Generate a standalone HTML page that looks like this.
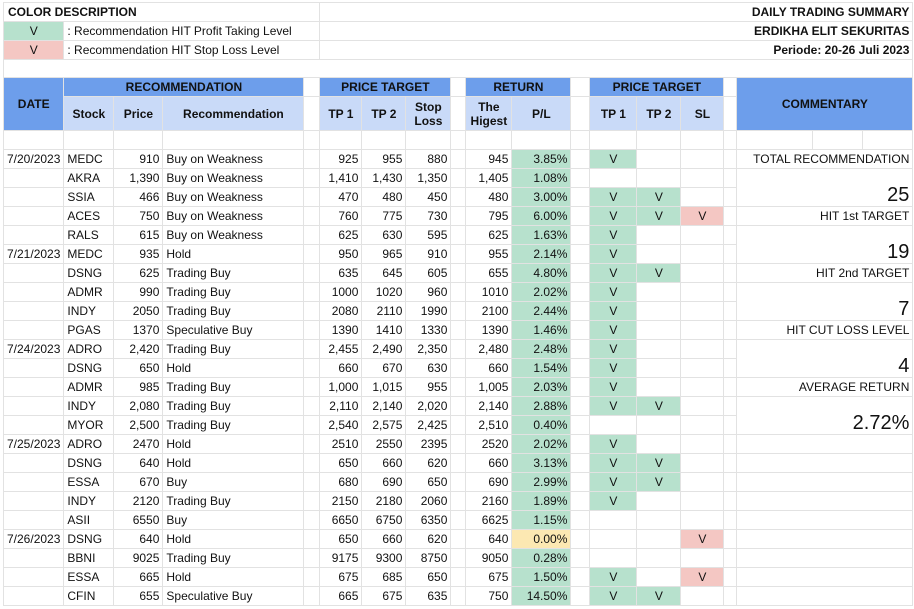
<!DOCTYPE html>
<html><head><meta charset="utf-8"><style>
body{margin:0;background:#fff;width:914px;height:609px;overflow:hidden;font-family:"Liberation Sans",Arial,sans-serif;font-size:12px;color:#111}
table{position:absolute;left:3px;top:2px;border-collapse:collapse;table-layout:fixed}
td{border:1px solid #e2e2e2;height:18px;padding:0 3px;white-space:nowrap;overflow:hidden;line-height:16px}
.r{text-align:right}.c{text-align:center}
.g{background:#b7e1cd}.rd{background:#f4c7c3}.y{background:#fce8b2}
.d{background:#6d9eeb;font-weight:bold;text-align:center;color:#111}
.l{background:#c9daf8;font-weight:bold;text-align:center}
.b{font-weight:bold}
.big{font-size:20px;text-align:right;vertical-align:bottom;line-height:22px}
</style></head><body>
<table>
<colgroup><col style="width:60px"><col style="width:50px"><col style="width:49px"><col style="width:141px"><col style="width:16px"><col style="width:42px"><col style="width:44px"><col style="width:45px"><col style="width:15px"><col style="width:46px"><col style="width:59px"><col style="width:19px"><col style="width:47px"><col style="width:44px"><col style="width:43px"><col style="width:13px"><col style="width:76px"><col style="width:50px"><col style="width:50px"></colgroup>
<tr><td colspan="5" class="b" style="padding-left:4px">COLOR DESCRIPTION</td><td colspan="14" class="r b">DAILY TRADING SUMMARY</td></tr>
<tr><td class="g c">V</td><td colspan="4">: Recommendation HIT Profit Taking Level</td><td colspan="14" class="r b">ERDIKHA ELIT SEKURITAS</td></tr>
<tr><td class="rd c">V</td><td colspan="4">: Recommendation HIT Stop Loss Level</td><td colspan="14" class="r b">Periode: 20-26 Juli 2023</td></tr>
<tr><td colspan="19" style="height:17px"></td></tr>
<tr><td rowspan="2" class="d">DATE</td><td colspan="3" class="d">RECOMMENDATION</td><td></td><td colspan="3" class="d">PRICE TARGET</td><td></td><td colspan="2" class="d">RETURN</td><td></td><td colspan="3" class="d">PRICE TARGET</td><td></td><td colspan="3" rowspan="2" class="d">COMMENTARY</td></tr>
<tr><td class="l" style="height:33px">Stock</td><td class="l">Price</td><td class="l">Recommendation</td><td></td><td class="l">TP 1</td><td class="l">TP 2</td><td class="l" style="line-height:14px">Stop<br>Loss</td><td></td><td class="l" style="line-height:14px">The<br>Higest</td><td class="l">P/L</td><td></td><td class="l">TP 1</td><td class="l">TP 2</td><td class="l">SL</td><td></td></tr>
<tr><td style="height:17px"></td><td></td><td></td><td></td><td></td><td></td><td></td><td></td><td></td><td></td><td></td><td></td><td></td><td></td><td></td><td></td><td></td><td></td><td></td></tr>

<tr><td class="r">7/20/2023</td><td>MEDC</td><td class="r">910</td><td>Buy on Weakness</td><td></td><td class="r">925</td><td class="r">955</td><td class="r">880</td><td></td><td class="r">945</td><td class="r g">3.85%</td><td></td><td class="c g">V</td><td></td><td></td><td></td><td colspan="3" class="r">TOTAL RECOMMENDATION</td></tr>
<tr><td></td><td>AKRA</td><td class="r">1,390</td><td>Buy on Weakness</td><td></td><td class="r">1,410</td><td class="r">1,430</td><td class="r">1,350</td><td></td><td class="r">1,405</td><td class="r g">1.08%</td><td></td><td></td><td></td><td></td><td></td><td colspan="3" rowspan="2" class="big">25</td></tr>
<tr><td></td><td>SSIA</td><td class="r">466</td><td>Buy on Weakness</td><td></td><td class="r">470</td><td class="r">480</td><td class="r">450</td><td></td><td class="r">480</td><td class="r g">3.00%</td><td></td><td class="c g">V</td><td class="c g">V</td><td></td><td></td></tr>
<tr><td></td><td>ACES</td><td class="r">750</td><td>Buy on Weakness</td><td></td><td class="r">760</td><td class="r">775</td><td class="r">730</td><td></td><td class="r">795</td><td class="r g">6.00%</td><td></td><td class="c g">V</td><td class="c g">V</td><td class="c rd">V</td><td></td><td colspan="3" class="r">HIT 1st TARGET</td></tr>
<tr><td></td><td>RALS</td><td class="r">615</td><td>Buy on Weakness</td><td></td><td class="r">625</td><td class="r">630</td><td class="r">595</td><td></td><td class="r">625</td><td class="r g">1.63%</td><td></td><td class="c g">V</td><td></td><td></td><td></td><td colspan="3" rowspan="2" class="big">19</td></tr>
<tr><td class="r">7/21/2023</td><td>MEDC</td><td class="r">935</td><td>Hold</td><td></td><td class="r">950</td><td class="r">965</td><td class="r">910</td><td></td><td class="r">955</td><td class="r g">2.14%</td><td></td><td class="c g">V</td><td></td><td></td><td></td></tr>
<tr><td></td><td>DSNG</td><td class="r">625</td><td>Trading Buy</td><td></td><td class="r">635</td><td class="r">645</td><td class="r">605</td><td></td><td class="r">655</td><td class="r g">4.80%</td><td></td><td class="c g">V</td><td class="c g">V</td><td></td><td></td><td colspan="3" class="r">HIT 2nd TARGET</td></tr>
<tr><td></td><td>ADMR</td><td class="r">990</td><td>Trading Buy</td><td></td><td class="r">1000</td><td class="r">1020</td><td class="r">960</td><td></td><td class="r">1010</td><td class="r g">2.02%</td><td></td><td class="c g">V</td><td></td><td></td><td></td><td colspan="3" rowspan="2" class="big">7</td></tr>
<tr><td></td><td>INDY</td><td class="r">2050</td><td>Trading Buy</td><td></td><td class="r">2080</td><td class="r">2110</td><td class="r">1990</td><td></td><td class="r">2100</td><td class="r g">2.44%</td><td></td><td class="c g">V</td><td></td><td></td><td></td></tr>
<tr><td></td><td>PGAS</td><td class="r">1370</td><td>Speculative Buy</td><td></td><td class="r">1390</td><td class="r">1410</td><td class="r">1330</td><td></td><td class="r">1390</td><td class="r g">1.46%</td><td></td><td class="c g">V</td><td></td><td></td><td></td><td colspan="3" class="r">HIT CUT LOSS LEVEL</td></tr>
<tr><td class="r">7/24/2023</td><td>ADRO</td><td class="r">2,420</td><td>Trading Buy</td><td></td><td class="r">2,455</td><td class="r">2,490</td><td class="r">2,350</td><td></td><td class="r">2,480</td><td class="r g">2.48%</td><td></td><td class="c g">V</td><td></td><td></td><td></td><td colspan="3" rowspan="2" class="big">4</td></tr>
<tr><td></td><td>DSNG</td><td class="r">650</td><td>Hold</td><td></td><td class="r">660</td><td class="r">670</td><td class="r">630</td><td></td><td class="r">660</td><td class="r g">1.54%</td><td></td><td class="c g">V</td><td></td><td></td><td></td></tr>
<tr><td></td><td>ADMR</td><td class="r">985</td><td>Trading Buy</td><td></td><td class="r">1,000</td><td class="r">1,015</td><td class="r">955</td><td></td><td class="r">1,005</td><td class="r g">2.03%</td><td></td><td class="c g">V</td><td></td><td></td><td></td><td colspan="3" class="r">AVERAGE RETURN</td></tr>
<tr><td></td><td>INDY</td><td class="r">2,080</td><td>Trading Buy</td><td></td><td class="r">2,110</td><td class="r">2,140</td><td class="r">2,020</td><td></td><td class="r">2,140</td><td class="r g">2.88%</td><td></td><td class="c g">V</td><td class="c g">V</td><td></td><td></td><td colspan="3" rowspan="2" class="big">2.72%</td></tr>
<tr><td></td><td>MYOR</td><td class="r">2,500</td><td>Trading Buy</td><td></td><td class="r">2,540</td><td class="r">2,575</td><td class="r">2,425</td><td></td><td class="r">2,510</td><td class="r g">0.40%</td><td></td><td></td><td></td><td></td><td></td></tr>
<tr><td class="r">7/25/2023</td><td>ADRO</td><td class="r">2470</td><td>Hold</td><td></td><td class="r">2510</td><td class="r">2550</td><td class="r">2395</td><td></td><td class="r">2520</td><td class="r g">2.02%</td><td></td><td class="c g">V</td><td></td><td></td><td></td><td colspan="3"></td></tr>
<tr><td></td><td>DSNG</td><td class="r">640</td><td>Hold</td><td></td><td class="r">650</td><td class="r">660</td><td class="r">620</td><td></td><td class="r">660</td><td class="r g">3.13%</td><td></td><td class="c g">V</td><td class="c g">V</td><td></td><td></td><td colspan="3"></td></tr>
<tr><td></td><td>ESSA</td><td class="r">670</td><td>Buy</td><td></td><td class="r">680</td><td class="r">690</td><td class="r">650</td><td></td><td class="r">690</td><td class="r g">2.99%</td><td></td><td class="c g">V</td><td class="c g">V</td><td></td><td></td><td colspan="3"></td></tr>
<tr><td></td><td>INDY</td><td class="r">2120</td><td>Trading Buy</td><td></td><td class="r">2150</td><td class="r">2180</td><td class="r">2060</td><td></td><td class="r">2160</td><td class="r g">1.89%</td><td></td><td class="c g">V</td><td></td><td></td><td></td><td colspan="3"></td></tr>
<tr><td></td><td>ASII</td><td class="r">6550</td><td>Buy</td><td></td><td class="r">6650</td><td class="r">6750</td><td class="r">6350</td><td></td><td class="r">6625</td><td class="r g">1.15%</td><td></td><td></td><td></td><td></td><td></td><td colspan="3"></td></tr>
<tr><td class="r">7/26/2023</td><td>DSNG</td><td class="r">640</td><td>Hold</td><td></td><td class="r">650</td><td class="r">660</td><td class="r">620</td><td></td><td class="r">640</td><td class="r y">0.00%</td><td></td><td></td><td></td><td class="c rd">V</td><td></td><td colspan="3"></td></tr>
<tr><td></td><td>BBNI</td><td class="r">9025</td><td>Trading Buy</td><td></td><td class="r">9175</td><td class="r">9300</td><td class="r">8750</td><td></td><td class="r">9050</td><td class="r g">0.28%</td><td></td><td></td><td></td><td></td><td></td><td colspan="3"></td></tr>
<tr><td></td><td>ESSA</td><td class="r">665</td><td>Hold</td><td></td><td class="r">675</td><td class="r">685</td><td class="r">650</td><td></td><td class="r">675</td><td class="r g">1.50%</td><td></td><td class="c g">V</td><td></td><td class="c rd">V</td><td></td><td colspan="3"></td></tr>
<tr><td></td><td>CFIN</td><td class="r">655</td><td>Speculative Buy</td><td></td><td class="r">665</td><td class="r">675</td><td class="r">635</td><td></td><td class="r">750</td><td class="r g">14.50%</td><td></td><td class="c g">V</td><td class="c g">V</td><td></td><td></td><td colspan="3"></td></tr>
</table>
</body></html>
